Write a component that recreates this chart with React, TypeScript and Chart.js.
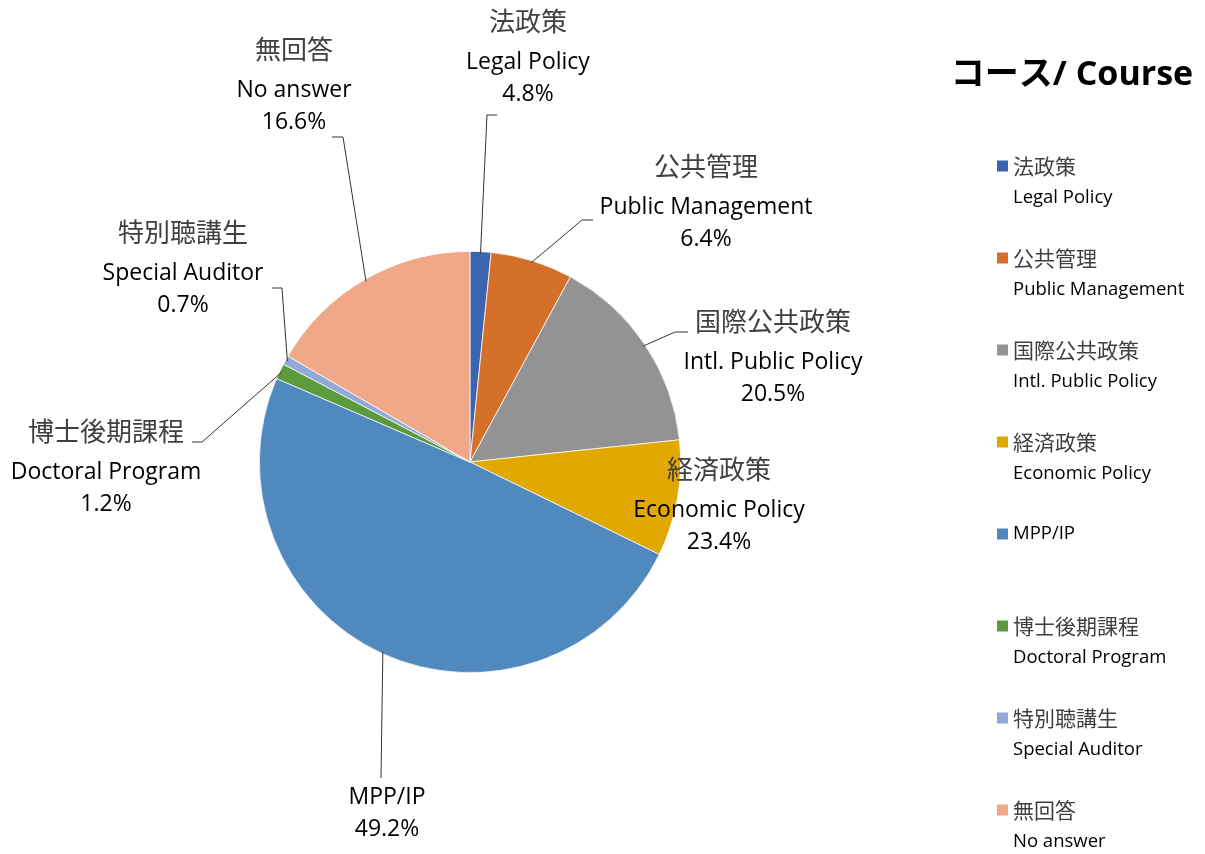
import React, { useEffect, useRef } from "react";
import { Chart, registerables } from "chart.js";

Chart.register(...registerables);

const categoriesJa = ["法政策", "公共管理", "国際公共政策", "経済政策", "", "博士後期課程", "特別聴講生", "無回答"];
const categoriesEn = ["Legal Policy", "Public Management", "Intl. Public Policy", "Economic Policy", "MPP/IP", "Doctoral Program", "Special Auditor", "No answer"];
const sliceShares = [1.6, 6.3, 15.4, 8.9, 49.2, 1.2, 0.7, 16.6];
const shareLabels = ["4.8%", "6.4%", "20.5%", "23.4%", "49.2%", "1.2%", "0.7%", "16.6%"];
const sliceColors = ["#3D64AF", "#D5702A", "#939393", "#E1A800", "#4F89BE", "#5B9A3D", "#92A8D7", "#F0A889"];

// label placement (English line centre), leader elbow and end
const labelLayout = [
  { x: 528, y: 62, elbow: [487, 115], end: [497, 115] },
  { x: 706, y: 207, elbow: [582, 220], end: [593, 220] },
  { x: 773, y: 362, elbow: [675, 332], end: [688, 332] },
  { x: 719, y: 510, elbow: null, end: null },
  { x: 387, y: 797, elbow: [381, 778], end: null },
  { x: 106, y: 472, elbow: [202, 442], end: [192, 442] },
  { x: 183, y: 273, elbow: [282, 288], end: [272, 288] },
  { x: 294, y: 90, elbow: [343, 137], end: [332, 137] },
];

const LATIN = "'Open Sans', 'Noto Sans', sans-serif";
const CJK = "'Noto Sans CJK JP', sans-serif";

const labelsPlugin = {
  id: "pieLabels",
  afterDraw(chart: any) {
    const ctx = chart.ctx;
    const meta = chart.getDatasetMeta(0);
    ctx.save();
    // leader lines
    ctx.strokeStyle = "#333";
    ctx.lineWidth = 1;
    meta.data.forEach((arc: any, i: number) => {
      const l = labelLayout[i];
      if (!l.elbow) return;
      const mid = (arc.startAngle + arc.endAngle) / 2;
      const sx = arc.x + Math.cos(mid) * (arc.outerRadius - 2);
      const sy = arc.y + Math.sin(mid) * (arc.outerRadius - 2);
      ctx.beginPath();
      ctx.moveTo(sx, sy);
      ctx.lineTo(l.elbow[0], l.elbow[1]);
      if (l.end) ctx.lineTo(l.end[0], l.end[1]);
      ctx.stroke();
    });
    // label text
    ctx.textAlign = "center";
    ctx.textBaseline = "middle";
    meta.data.forEach((_arc: any, i: number) => {
      const l = labelLayout[i];
      if (categoriesJa[i]) {
        ctx.fillStyle = "#404040";
        ctx.font = `26px ${CJK}`;
        ctx.fillText(categoriesJa[i], l.x, l.y - 41);
      }
      ctx.fillStyle = "#000";
      ctx.font = `23px ${LATIN}`;
      ctx.fillText(categoriesEn[i], l.x, l.y);
      ctx.fillText(shareLabels[i], l.x, l.y + 32);
    });
    // title
    ctx.fillStyle = "#000";
    ctx.textAlign = "center";
    ctx.font = `bold 34px 'Open Sans', 'Noto Sans CJK JP', sans-serif`;
    ctx.fillText("コース/ Course", 1072, 75);
    // legend
    ctx.textAlign = "left";
    categoriesEn.forEach((en, i) => {
      const y = 166 + i * 92;
      ctx.fillStyle = sliceColors[i];
      ctx.fillRect(997, y - 5.5, 11, 11);
      if (categoriesJa[i]) {
        ctx.fillStyle = "#404040";
        ctx.font = `21px ${CJK}`;
        ctx.fillText(categoriesJa[i], 1013, y);
        ctx.fillStyle = "#000";
        ctx.font = `18.5px ${LATIN}`;
        ctx.fillText(en, 1013, y + 32);
      } else {
        ctx.fillStyle = "#000";
        ctx.font = `18.5px ${LATIN}`;
        ctx.fillText(en, 1013, y);
      }
    });
    ctx.restore();
  },
};

export default function App() {
  const ref = useRef<HTMLCanvasElement>(null);
  useEffect(() => {
    if (!ref.current) return;
    const chart = new Chart(ref.current, {
      type: "pie",
      data: {
        labels: categoriesEn,
        datasets: [
          {
            data: sliceShares,
            backgroundColor: sliceColors,
            borderColor: "#ffffff",
            borderWidth: 0.75,
          },
        ],
      },
      options: {
        responsive: false,
        animation: false,
        layout: { padding: { left: 259, right: 524, top: 251, bottom: 181 } },
        plugins: {
          legend: { display: false },
          tooltip: { enabled: false },
        },
      },
      plugins: [labelsPlugin],
    });
    return () => chart.destroy();
  }, []);
  return (
    <div style={{ position: "absolute", left: 0, top: 0, width: 1205, height: 854, background: "#fff" }}>
      <canvas ref={ref} width={1205} height={854} />
    </div>
  );
}
